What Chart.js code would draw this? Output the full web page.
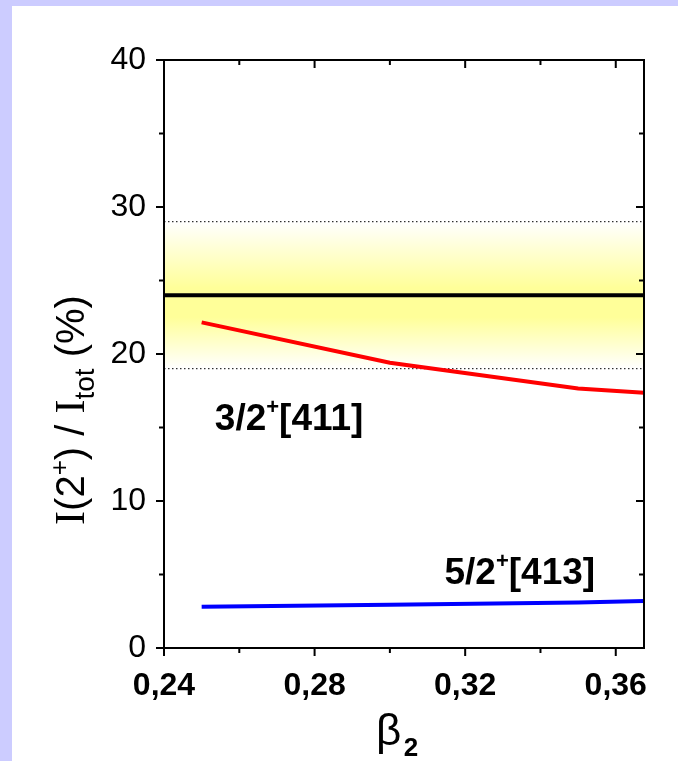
<!DOCTYPE html>
<html>
<head>
<meta charset="utf-8">
<script src="https://cdn.jsdelivr.net/npm/chart.js@4.4.1/dist/chart.umd.min.js"></script>
<style>
  html, body { margin: 0; padding: 0; background: #ccccff; }
  #panel { position: absolute; left: 12px; top: 6px; width: 666px; height: 755px; background: #fff; }
  #wrap { position: absolute; left: 0; top: 0; width: 678px; height: 761px; }
</style>
</head>
<body>
<div id="panel"></div>
<div id="wrap"><canvas id="chart" width="678" height="761"></canvas></div>
<script>
// beta2 values and calculated intensity ratios
const beta = [0.25, 0.30, 0.35, 0.3675];
const ratio411 = [22.15, 19.4, 17.65, 17.37];
const ratio413 = [2.8, 2.95, 3.1, 3.2];
// experimental value with its error band
const expX = [0.24, 0.3675];
const expValue = 24;
const expLow = 19;
const expHigh = 29;

const xTicks = [0.24, 0.28, 0.32, 0.36];
const xMinor = [0.26, 0.30, 0.34];
const yTicks = [0, 10, 20, 30, 40];
const yMinor = [5, 15, 25, 35];

function pts(xs, ys) {
  return xs.map((x, i) => ({ x: x, y: Array.isArray(ys) ? ys[i] : ys }));
}

function bandFill(context) {
  const chart = context.chart;
  const y = chart.scales.y;
  if (!chart.chartArea || !y) return 'rgba(255,255,150,0.6)';
  const top = y.getPixelForValue(expHigh);
  const bot = y.getPixelForValue(expLow);
  if (!isFinite(top) || !isFinite(bot)) return 'rgba(255,255,150,0.6)';
  const g = chart.ctx.createLinearGradient(0, top, 0, bot);
  g.addColorStop(0, '#ffffff');
  g.addColorStop(0.45, '#ffff99');
  g.addColorStop(0.65, '#ffff99');
  g.addColorStop(1, '#ffffff');
  return g;
}

// frame, ticks, titles and labels
const decor = {
  id: 'decor',
  afterDatasetsDraw(chart) {
    const ctx = chart.ctx;
    const a = chart.chartArea;
    const xs = chart.scales.x, ys = chart.scales.y;
    ctx.save();
    ctx.strokeStyle = '#000';
    ctx.lineWidth = 2;
    ctx.strokeRect(a.left, a.top, a.right - a.left, a.bottom - a.top);
    ctx.beginPath();
    xTicks.forEach(v => {
      const p = xs.getPixelForValue(v);
      ctx.moveTo(p, a.bottom); ctx.lineTo(p, a.bottom + 8);
      ctx.moveTo(p, a.top); ctx.lineTo(p, a.top + 8);
    });
    xMinor.forEach(v => {
      const p = xs.getPixelForValue(v);
      ctx.moveTo(p, a.bottom); ctx.lineTo(p, a.bottom + 5);
      ctx.moveTo(p, a.top); ctx.lineTo(p, a.top + 5);
    });
    yTicks.forEach(v => {
      const p = ys.getPixelForValue(v);
      ctx.moveTo(a.left, p); ctx.lineTo(a.left - 8, p);
      ctx.moveTo(a.right, p); ctx.lineTo(a.right - 8, p);
    });
    yMinor.forEach(v => {
      const p = ys.getPixelForValue(v);
      ctx.moveTo(a.left, p); ctx.lineTo(a.left - 5, p);
      ctx.moveTo(a.right, p); ctx.lineTo(a.right - 5, p);
    });
    ctx.stroke();

    // state labels
    ctx.fillStyle = '#000';
    ctx.textBaseline = 'alphabetic';
    function state(x, y, a1, a2) {
      ctx.font = 'bold 37px "Liberation Sans", Arial';
      ctx.fillText(a1, x, y);
      let w = ctx.measureText(a1).width;
      ctx.font = 'bold 22px "Liberation Sans", Arial';
      ctx.fillText('+', x + w, y - 16);
      w += ctx.measureText('+').width;
      ctx.font = 'bold 37px "Liberation Sans", Arial';
      ctx.fillText(a2, x + w, y);
    }
    state(xs.getPixelForValue(0.2535), ys.getPixelForValue(14.8), '3/2', '[411]');
    state(xs.getPixelForValue(0.3145), ys.getPixelForValue(4.35), '5/2', '[413]');

    // x title
    ctx.font = '44px "Liberation Sans", Arial';
    const bx = 376;
    ctx.fillText('\u03b2', bx, 745);
    ctx.font = 'bold 26px "Liberation Sans", Arial';
    ctx.fillText('2', bx + ctx.measureText('\u03b2').width + 12, 756);

    // y title, rotated
    ctx.translate(84, 410);
    ctx.rotate(-Math.PI / 2);
    const parts = [
      ['I', '42px "Liberation Serif", serif', 0],
      ['(2', '40px "Liberation Sans", Arial', 0],
      ['+', '26px "Liberation Sans", Arial', -16],
      [') / ', '40px "Liberation Sans", Arial', 0],
      ['I', '42px "Liberation Serif", serif', 0],
      ['tot', '28px "Liberation Sans", Arial', 10],
      [' (%)', '40px "Liberation Sans", Arial', 0]
    ];
    let total = 0;
    parts.forEach(p => { ctx.font = p[1]; total += ctx.measureText(p[0]).width; });
    let cx = -total / 2;
    parts.forEach(p => {
      ctx.font = p[1];
      ctx.fillText(p[0], cx, p[2]);
      cx += ctx.measureText(p[0]).width;
    });
    ctx.restore();
  }
};

new Chart(document.getElementById('chart'), {
  type: 'line',
  data: {
    datasets: [
      {
        data: pts(expX, expHigh),
        borderColor: '#000',
        borderWidth: 1,
        borderDash: [1.5, 2.5],
        backgroundColor: bandFill,
        fill: 1,
        order: 10,
        pointRadius: 0
      },
      {
        data: pts(expX, expLow),
        borderColor: '#000',
        borderWidth: 1,
        borderDash: [1.5, 2.5],
        fill: false,
        order: 9,
        pointRadius: 0
      },
      {
        data: pts(expX, expValue),
        borderColor: '#000',
        borderWidth: 4,
        fill: false,
        order: 3,
        pointRadius: 0
      },
      {
        data: pts(beta, ratio411),
        borderColor: '#ff0000',
        borderWidth: 4,
        fill: false,
        order: 2,
        pointRadius: 0
      },
      {
        data: pts(beta, ratio413),
        borderColor: '#0000ff',
        borderWidth: 4,
        fill: false,
        order: 1,
        pointRadius: 0
      }
    ]
  },
  options: {
    responsive: false,
    animation: false,
    layout: { padding: { left: 0, top: 60, right: 34, bottom: 0 } },
    plugins: { legend: { display: false }, tooltip: { enabled: false }, filler: { drawTime: 'beforeDatasetsDraw' } },
    scales: {
      x: {
        type: 'linear',
        min: 0.24,
        max: 0.3675,
        afterBuildTicks: s => { s.ticks = xTicks.map(v => ({ value: v })); },
        afterFit: s => { s.height = 113; },
        grid: { display: false },
        border: { display: false },
        ticks: {
          color: '#000',
          padding: 11,
          maxRotation: 0,
          font: { family: '"Liberation Sans", Arial', size: 32, weight: 'bold' },
          callback: v => v.toFixed(2).replace('.', ',')
        }
      },
      y: {
        min: 0,
        max: 40,
        afterBuildTicks: s => { s.ticks = yTicks.map(v => ({ value: v })); },
        afterFit: s => { s.width = 164; },
        grid: { display: false },
        border: { display: false },
        ticks: {
          color: '#000',
          padding: 10,
          font: { family: '"Liberation Sans", Arial', size: 32 }
        }
      }
    }
  },
  plugins: [decor]
});
</script>
</body>
</html>
